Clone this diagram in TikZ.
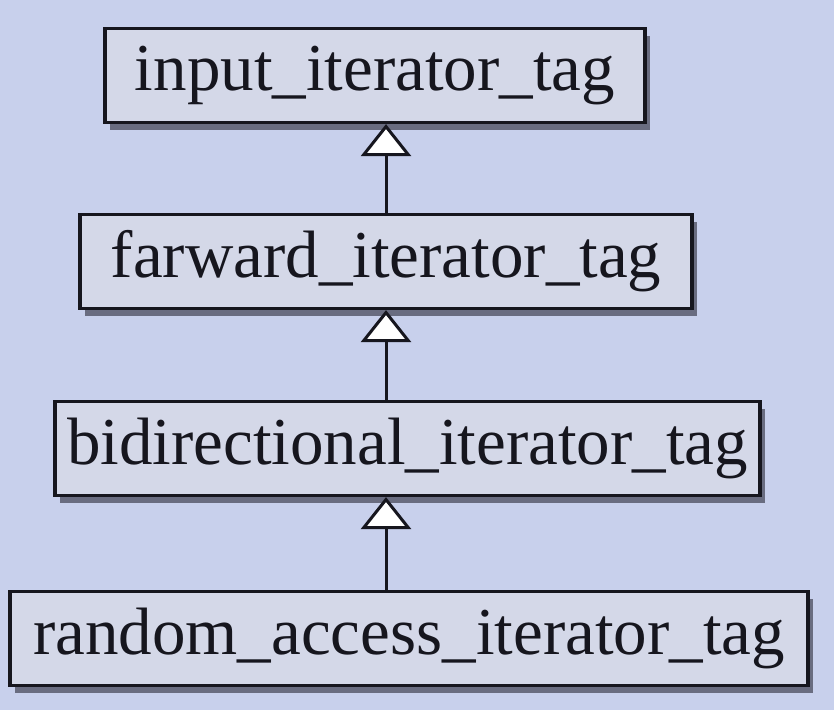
\documentclass[tikz,border=0pt]{standalone}
\usepackage{fontspec}
\setmainfont{Liberation Serif}
\usetikzlibrary{arrows.meta}
\usetikzlibrary{shadows}
\definecolor{slidebg}{RGB}{200,208,236}
\definecolor{tagfill}{RGB}{212,216,232}
\definecolor{tagshade}{RGB}{105,108,128}
\definecolor{ink}{RGB}{22,22,30}
\tikzset{tag/.style = {draw = ink, fill = tagfill, line width = 3.2pt, inner sep = 0,
    minimum height = 94pt, text = ink, font = \fontsize{67}{70}\selectfont,
    drop shadow = {shadow xshift = 5pt, shadow yshift = -7pt, fill = tagshade, opacity = 1}}}
\tikzset{inherit/.style = {draw = ink, line width = 3pt,
    -{Triangle[length = 32pt, width = 50pt, fill = white, line width = 3pt]}}}

\begin{document}
\begin{tikzpicture}[x = 1pt, y = -1pt]
    \fill [slidebg] (0, 0) rectangle (834, 710);
    \useasboundingbox (0, 0) rectangle (834, 710);

    \node [tag, minimum width = 540pt] (input) at (375, 75.5) {input\_iterator\_tag};
    \node [tag, minimum width = 612pt] (forward) at (386, 261.5) {farward\_iterator\_tag};
    \node [tag, minimum width = 705pt] (bidir) at (407.5, 448.5) {bidirectional\_iterator\_tag};
    \node [tag, minimum width = 798pt] (random) at (409, 638.5) {random\_access\_iterator\_tag};

    \coordinate (axis) at (386, 0);

    \draw [inherit] (forward.north -| axis) -- (input.south -| axis);
    \draw [inherit] (bidir.north -| axis) -- (forward.south -| axis);
    \draw [inherit] (random.north -| axis) -- (bidir.south -| axis);
  \end{tikzpicture}
\end{document}
